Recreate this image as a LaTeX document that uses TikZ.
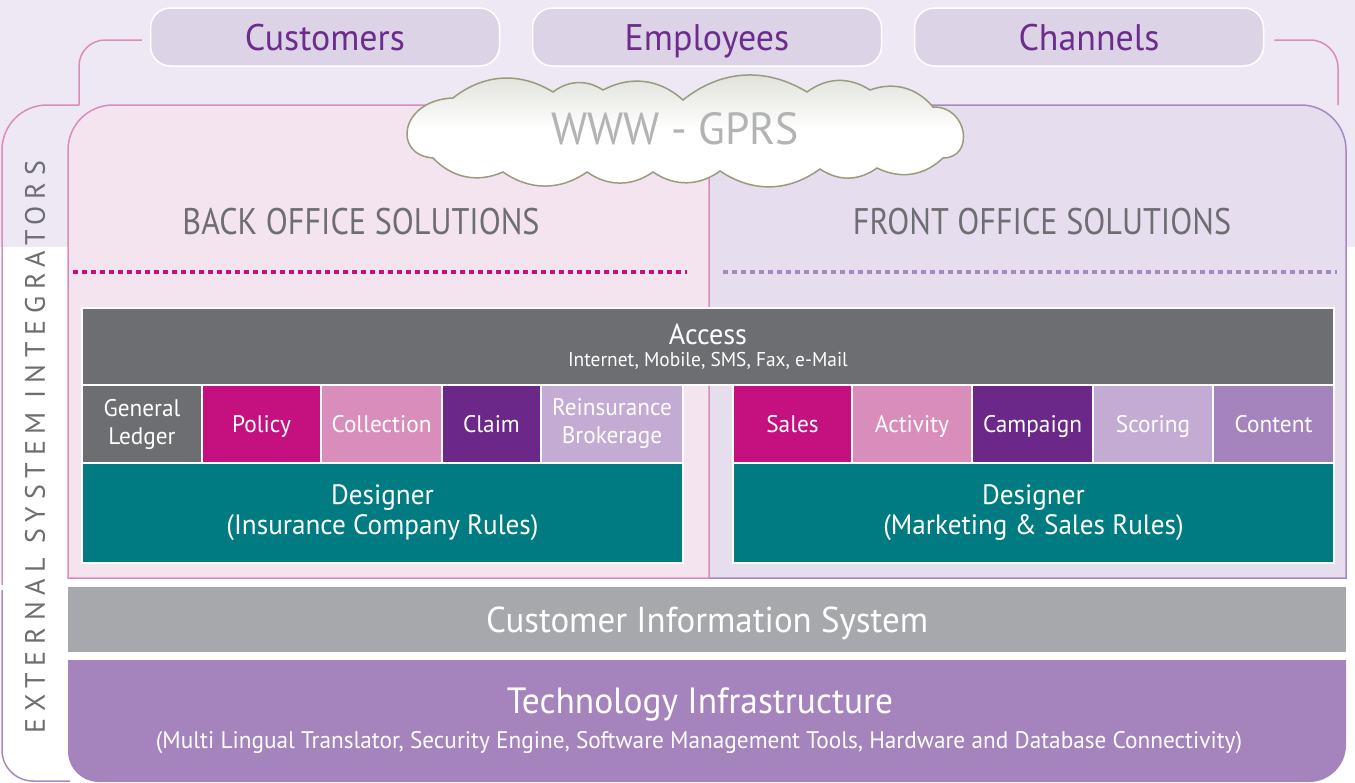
\documentclass[tikz,border=0pt]{standalone}
\usepackage{fontspec}
\setmainfont{PT Sans}[FakeStretch=0.97]
\newfontfamily\headfont{PT Sans}[FakeStretch=0.87]
\newfontfamily\spacedfont{PT Sans}[LetterSpace=24]
\usetikzlibrary{positioning}
\definecolor{bglav}{HTML}{EEE8F4}
\definecolor{tabfill}{HTML}{DDD3E7}
\definecolor{tabtext}{HTML}{6B2C8C}
\definecolor{backfill}{HTML}{F4E4EF}
\definecolor{frontfill}{HTML}{E6DEEE}
\definecolor{pinkline}{HTML}{DA8CBB}
\definecolor{purpline}{HTML}{A689C0}
\definecolor{darkgrey}{HTML}{6D6E71}
\definecolor{rubine}{HTML}{C4117F}
\definecolor{rosepink}{HTML}{D98DBA}
\definecolor{deeppurple}{HTML}{6B2888}
\definecolor{lilac}{HTML}{C3ABD3}
\definecolor{midpurple}{HTML}{A584BD}
\definecolor{tealblue}{HTML}{007B82}
\definecolor{cisgrey}{HTML}{A7A8AB}
\definecolor{cloudline}{HTML}{999B7E}
\definecolor{cloudtop}{HTML}{DCDED5}
\definecolor{wwwtext}{HTML}{B2B3B5}

\begin{document}
\begin{tikzpicture}[x=1pt, y=-1pt,
  tab/.style={rectangle, text height=26pt, text depth=0pt, draw=white, line width=1.5pt, rounded corners=20pt, fill=tabfill, text=tabtext, minimum width=349pt, minimum height=58pt, font=\fontsize{37}{40}\selectfont},
  cell/.style={rectangle, draw=white, line width=1.5pt, outer sep=0pt, inner sep=0pt, align=center, text=white, minimum height=78pt, font=\fontsize{24}{28}\selectfont},
  cellone/.style={cell, text height=17pt, text depth=0pt},
  designbox/.style={cell, fill=tealblue, minimum height=100pt, anchor=north west, font=\fontsize{28}{30}\selectfont},
  heading/.style={text=darkgrey, font=\headfont\fontsize{37}{40}\selectfont},
  dotline/.style={line width=3.5pt, dash pattern=on 5pt off 4pt},
  edge/.style={line width=1.5pt}
]
\useasboundingbox (0,0) rectangle (1355,782);
\fill[bglav] (0,0) rectangle (1355,247);

% the three user groups
\node[tab] (cust) at (325,37) {Customers};
\node[tab] (empl) at (707,37) {Employees};
\node[tab] (chan) at (1089,37) {Channels};

\coordinate (ljoin) at (79,105);
\coordinate (rjoin) at (1338,105);
\draw[edge, pinkline, rounded corners=26pt] ([xshift=-8pt,yshift=-3pt]cust.west) -| (ljoin);
\draw[edge, pinkline, rounded corners=28pt] ([xshift=10pt,yshift=-3pt]chan.east) -| (rjoin);

% external system integrators strip
\draw[edge, pinkline] (ljoin) -- (47,105) arc[start angle=270, end angle=180, radius=45] -- (2,585);
\draw[edge, purpline] (2,590) -- (2,750) arc[start angle=180, end angle=90, radius=31] -- (70,781);
\node[rotate=90, text=darkgrey, font=\spacedfont\fontsize{28}{30}\selectfont] (esi) at (35,447) {EXTERNAL\hspace{14pt}SYSTEM\hspace{14pt}INTEGRATORS};

% back and front office panels
\fill[backfill] (709,578) -- (68,578) -- (68,150) arc[start angle=180, end angle=270, radius=45] -- (709,105) -- cycle;
\fill[frontfill] (709,105) -- (1301,105) arc[start angle=-90, end angle=0, radius=45] -- (1346,578) -- (709,578) -- cycle;
\draw[edge, purpline] (709,105) -- (1301,105) arc[start angle=-90, end angle=0, radius=45] -- (1346,578) -- (709,578);
\draw[edge, pinkline] (709,578) -- (68,578) -- (68,150) arc[start angle=180, end angle=270, radius=45] -- (709,105) -- cycle;

\node[heading] (backhd) at (361,222) {BACK OFFICE SOLUTIONS};
\node[heading] (fronthd) at (1042,222) {FRONT OFFICE SOLUTIONS};
\draw[dotline, rubine] (73,272) -- (687,272);
\draw[dotline, purpline] (723,272) -- (1337,272);

% network cloud
\path[draw=cloudline, line width=1.5pt, top color=cloudtop, bottom color=white, middle color=white]
  (433,158) .. controls (392,155) and (400,100) .. (453,98)
  to[bend left=35] (553,92) to[bend left=35] (603,90) to[bend left=35] (683,100)
  to[bend left=35] (807,92) to[bend left=35] (870,90) to[bend left=35] (933,107)
  .. controls (968,106) and (975,158) .. (943,158)
  to[bend left=35] (877,168) to[bend left=35] (820,169) to[bend left=35] (720,171)
  to[bend left=35] (653,172) to[bend left=35] (587,172) to[bend left=35] (503,172)
  to[bend left=35] cycle;
\node[text=wwwtext, font=\fontsize{45}{50}\selectfont] (www) at (675,129) {WWW - GPRS};

% access bar
\node[cell, fill=darkgrey, minimum width=1252pt, minimum height=77pt, anchor=north west, font=\fontsize{29}{22}\selectfont] (access) at (82,308) {Access\\{\fontsize{20}{20}\selectfont Internet, Mobile, SMS, Fax, e-Mail}};

% back office modules
\node[cell, fill=darkgrey, minimum width=120pt, anchor=north west] (gl) at (82,385) {General\\Ledger};
\node[cellone, fill=rubine, minimum width=119pt, right=0pt of gl] (pol) {Policy};
\node[cellone, fill=rosepink, minimum width=121pt, right=0pt of pol] (coll) {Collection};
\node[cellone, fill=deeppurple, minimum width=99pt, right=0pt of coll] (clm) {Claim};
\node[cell, fill=lilac, minimum width=142pt, right=0pt of clm] (reins) {Reinsurance\\Brokerage};
\node[designbox, minimum width=601pt] (dsgnback) at (gl.south west) {Designer\\(Insurance Company Rules)};

% front office modules
\node[cellone, fill=rubine, minimum width=119pt, anchor=north west] (sales) at (733,385) {Sales};
\node[cellone, fill=rosepink, minimum width=120pt, right=0pt of sales] (act) {Activity};
\node[cellone, fill=deeppurple, minimum width=121pt, right=0pt of act] (camp) {Campaign};
\node[cellone, fill=lilac, minimum width=120pt, right=0pt of camp] (score) {Scoring};
\node[cellone, fill=midpurple, minimum width=121pt, right=0pt of score] (cont) {Content};
\node[designbox, minimum width=601pt] (dsgnfront) at (sales.south west) {Designer\\(Marketing \& Sales Rules)};

% shared layers
\node[rectangle, fill=cisgrey, minimum width=1278pt, minimum height=65pt, anchor=north west, text height=25pt, text depth=0pt, text=white, font=\fontsize{36}{40}\selectfont] (cis) at (68,587) {Customer Information System};
\fill[midpurple] (68,660) -- (1346,660) -- (1346,745) arc[start angle=0, end angle=90, radius=37] -- (99,782) arc[start angle=90, end angle=180, radius=31] -- cycle;
\node[text=white, font=\fontsize{36.5}{40}\selectfont] (techhd) at (700,704) {Technology Infrastructure};
\node[text=white, font=\fontsize{24}{26}\selectfont] (techsub) at (699,743) {(Multi Lingual Translator, Security Engine, Software Management Tools, Hardware and Database Connectivity)};
\end{tikzpicture}
\end{document}
